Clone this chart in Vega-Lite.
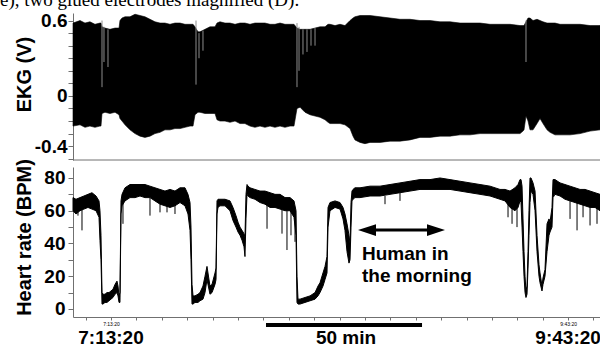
{
  "$schema": "https://vega.github.io/schema/vega-lite/v6.json",
  "width": 527,
  "height": 304,
  "autosize": {"type": "none"},
  "padding": {"left": 73, "top": 13, "right": 0, "bottom": 28},
  "background": "white",
  "config": {
    "view": {"stroke": null},
    "font": "Liberation Sans",
    "axis": {"grid": false, "domainColor": "#707070", "tickColor": "#707070", "labelColor": "#000", "titleColor": "#000", "labelFont": "Liberation Sans", "titleFont": "Liberation Sans", "titleFontWeight": "bold", "labelOverlap": false}
  },
  "datasets": {
    "ekg": [
      {"t":25252,"hi":0.58,"lo":-0.24},{"t":25390,"hi":0.60,"lo":-0.23},{"t":25488,"hi":0.58,"lo":-0.25},{"t":25586,"hi":0.59,"lo":-0.24},{"t":25685,"hi":0.57,"lo":-0.25},{"t":25783,"hi":0.58,"lo":-0.24},{"t":25803,"hi":0.58,"lo":-0.24},{"t":25823,"hi":0.55,"lo":-0.14},{"t":25882,"hi":0.54,"lo":-0.13},{"t":25980,"hi":0.53,"lo":-0.14},{"t":26079,"hi":0.54,"lo":-0.13},{"t":26158,"hi":0.54,"lo":-0.15},{"t":26177,"hi":0.60,"lo":-0.18},{"t":26217,"hi":0.62,"lo":-0.20},{"t":26276,"hi":0.63,"lo":-0.23},{"t":26374,"hi":0.63,"lo":-0.27},{"t":26473,"hi":0.65,"lo":-0.30},{"t":26571,"hi":0.64,"lo":-0.32},{"t":26669,"hi":0.63,"lo":-0.33},{"t":26768,"hi":0.61,"lo":-0.32},{"t":26866,"hi":0.59,"lo":-0.30},{"t":26965,"hi":0.58,"lo":-0.29},{"t":27063,"hi":0.58,"lo":-0.27},{"t":27162,"hi":0.57,"lo":-0.27},{"t":27260,"hi":0.58,"lo":-0.26},{"t":27359,"hi":0.58,"lo":-0.26},{"t":27457,"hi":0.57,"lo":-0.25},{"t":27556,"hi":0.57,"lo":-0.24},{"t":27615,"hi":0.57,"lo":-0.24},{"t":27654,"hi":0.55,"lo":-0.15},{"t":27713,"hi":0.51,"lo":-0.13},{"t":27752,"hi":0.51,"lo":-0.13},{"t":27851,"hi":0.53,"lo":-0.14},{"t":27949,"hi":0.55,"lo":-0.14},{"t":28048,"hi":0.55,"lo":-0.14},{"t":28087,"hi":0.58,"lo":-0.19},{"t":28146,"hi":0.59,"lo":-0.20},{"t":28245,"hi":0.58,"lo":-0.20},{"t":28343,"hi":0.58,"lo":-0.21},{"t":28442,"hi":0.57,"lo":-0.20},{"t":28540,"hi":0.58,"lo":-0.22},{"t":28638,"hi":0.58,"lo":-0.22},{"t":28737,"hi":0.57,"lo":-0.24},{"t":28835,"hi":0.58,"lo":-0.25},{"t":28934,"hi":0.58,"lo":-0.24},{"t":29032,"hi":0.58,"lo":-0.25},{"t":29131,"hi":0.57,"lo":-0.24},{"t":29229,"hi":0.57,"lo":-0.25},{"t":29328,"hi":0.58,"lo":-0.24},{"t":29426,"hi":0.57,"lo":-0.25},{"t":29525,"hi":0.57,"lo":-0.24},{"t":29603,"hi":0.57,"lo":-0.24},{"t":29662,"hi":0.54,"lo":-0.10},{"t":29722,"hi":0.53,"lo":-0.09},{"t":29820,"hi":0.53,"lo":-0.13},{"t":29919,"hi":0.53,"lo":-0.15},{"t":30017,"hi":0.54,"lo":-0.16},{"t":30115,"hi":0.55,"lo":-0.17},{"t":30214,"hi":0.55,"lo":-0.19},{"t":30273,"hi":0.57,"lo":-0.21},{"t":30312,"hi":0.57,"lo":-0.22},{"t":30411,"hi":0.56,"lo":-0.22},{"t":30509,"hi":0.57,"lo":-0.22},{"t":30607,"hi":0.56,"lo":-0.23},{"t":30706,"hi":0.60,"lo":-0.26},{"t":30765,"hi":0.62,"lo":-0.32},{"t":30804,"hi":0.63,"lo":-0.35},{"t":30903,"hi":0.64,"lo":-0.37},{"t":31001,"hi":0.64,"lo":-0.38},{"t":31100,"hi":0.64,"lo":-0.37},{"t":31297,"hi":0.63,"lo":-0.37},{"t":31494,"hi":0.62,"lo":-0.36},{"t":31690,"hi":0.61,"lo":-0.36},{"t":31887,"hi":0.61,"lo":-0.35},{"t":32084,"hi":0.60,"lo":-0.33},{"t":32281,"hi":0.60,"lo":-0.33},{"t":32478,"hi":0.59,"lo":-0.32},{"t":32675,"hi":0.59,"lo":-0.32},{"t":32872,"hi":0.58,"lo":-0.31},{"t":33069,"hi":0.58,"lo":-0.31},{"t":33266,"hi":0.58,"lo":-0.30},{"t":33463,"hi":0.57,"lo":-0.30},{"t":33659,"hi":0.57,"lo":-0.30},{"t":33856,"hi":0.57,"lo":-0.30},{"t":34053,"hi":0.56,"lo":-0.30},{"t":34112,"hi":0.56,"lo":-0.28},{"t":34132,"hi":0.56,"lo":-0.27},{"t":34171,"hi":0.59,"lo":-0.16},{"t":34211,"hi":0.62,"lo":-0.20},{"t":34250,"hi":0.62,"lo":-0.27},{"t":34309,"hi":0.60,"lo":-0.27},{"t":34388,"hi":0.61,"lo":-0.22},{"t":34447,"hi":0.60,"lo":-0.18},{"t":34506,"hi":0.59,"lo":-0.22},{"t":34585,"hi":0.58,"lo":-0.27},{"t":34644,"hi":0.58,"lo":-0.29},{"t":34742,"hi":0.58,"lo":-0.31},{"t":34841,"hi":0.57,"lo":-0.31},{"t":35038,"hi":0.57,"lo":-0.31},{"t":35235,"hi":0.57,"lo":-0.30},{"t":35432,"hi":0.56,"lo":-0.28},{"t":35628,"hi":0.56,"lo":-0.27}
    ],
    "ekgGlitch": [
      {"t":25823,"top":0.60,"bottom":0.07},{"t":25862,"top":0.55,"bottom":0.27},{"t":25941,"top":0.53,"bottom":0.23},{"t":27674,"top":0.60,"bottom":0.09},{"t":27733,"top":0.50,"bottom":0.30},{"t":27811,"top":0.52,"bottom":0.36},{"t":29662,"top":0.58,"bottom":0.07},{"t":29702,"top":0.55,"bottom":0.20},{"t":29780,"top":0.53,"bottom":0.33},{"t":29859,"top":0.53,"bottom":0.35},{"t":29938,"top":0.53,"bottom":0.40},{"t":30017,"top":0.54,"bottom":0.40},{"t":34171,"top":0.60,"bottom":0.27}
    ],
    "hr": [
      {"t":25252,"lo":60,"hi":68},{"t":25311,"lo":58,"hi":67},{"t":25390,"lo":60,"hi":68},{"t":25468,"lo":61,"hi":69},{"t":25547,"lo":62,"hi":70},{"t":25626,"lo":61,"hi":71},{"t":25705,"lo":60,"hi":69},{"t":25764,"lo":56,"hi":66},{"t":25783,"lo":42,"hi":60},{"t":25803,"lo":30,"hi":45},{"t":25823,"lo":3,"hi":10},{"t":25842,"lo":3,"hi":9},{"t":25882,"lo":4,"hi":9},{"t":25921,"lo":4,"hi":10},{"t":25961,"lo":5,"hi":10},{"t":26000,"lo":6,"hi":11},{"t":26039,"lo":7,"hi":12},{"t":26079,"lo":9,"hi":15},{"t":26118,"lo":10,"hi":17},{"t":26138,"lo":8,"hi":14},{"t":26158,"lo":4,"hi":8},{"t":26177,"lo":4,"hi":10},{"t":26197,"lo":58,"hi":66},{"t":26217,"lo":63,"hi":70},{"t":26276,"lo":66,"hi":74},{"t":26374,"lo":68,"hi":76},{"t":26473,"lo":68,"hi":76},{"t":26571,"lo":69,"hi":76},{"t":26669,"lo":68,"hi":76},{"t":26768,"lo":68,"hi":75},{"t":26866,"lo":66,"hi":74},{"t":26965,"lo":64,"hi":73},{"t":27063,"lo":63,"hi":72},{"t":27162,"lo":62,"hi":73},{"t":27260,"lo":63,"hi":72},{"t":27359,"lo":65,"hi":74},{"t":27457,"lo":63,"hi":74},{"t":27516,"lo":58,"hi":70},{"t":27556,"lo":48,"hi":65},{"t":27575,"lo":30,"hi":50},{"t":27595,"lo":3,"hi":15},{"t":27615,"lo":3,"hi":8},{"t":27654,"lo":4,"hi":8},{"t":27713,"lo":4,"hi":9},{"t":27752,"lo":5,"hi":10},{"t":27811,"lo":6,"hi":14},{"t":27851,"lo":10,"hi":20},{"t":27890,"lo":18,"hi":26},{"t":27949,"lo":9,"hi":14},{"t":27989,"lo":10,"hi":15},{"t":28048,"lo":15,"hi":22},{"t":28068,"lo":18,"hi":25},{"t":28087,"lo":58,"hi":66},{"t":28107,"lo":62,"hi":67},{"t":28146,"lo":63,"hi":67},{"t":28245,"lo":63,"hi":67},{"t":28343,"lo":60,"hi":66},{"t":28402,"lo":54,"hi":62},{"t":28461,"lo":50,"hi":57},{"t":28501,"lo":47,"hi":53},{"t":28540,"lo":45,"hi":50},{"t":28580,"lo":42,"hi":48},{"t":28619,"lo":38,"hi":46},{"t":28638,"lo":32,"hi":44},{"t":28658,"lo":55,"hi":70},{"t":28678,"lo":70,"hi":76},{"t":28698,"lo":69,"hi":75},{"t":28737,"lo":68,"hi":74},{"t":28835,"lo":67,"hi":73},{"t":28934,"lo":65,"hi":72},{"t":29032,"lo":64,"hi":72},{"t":29131,"lo":62,"hi":71},{"t":29229,"lo":62,"hi":70},{"t":29328,"lo":61,"hi":70},{"t":29426,"lo":60,"hi":68},{"t":29525,"lo":60,"hi":68},{"t":29603,"lo":56,"hi":66},{"t":29643,"lo":45,"hi":60},{"t":29662,"lo":4,"hi":20},{"t":29682,"lo":3,"hi":6},{"t":29722,"lo":3,"hi":6},{"t":29820,"lo":4,"hi":7},{"t":29919,"lo":5,"hi":8},{"t":30017,"lo":6,"hi":10},{"t":30076,"lo":8,"hi":14},{"t":30115,"lo":10,"hi":16},{"t":30174,"lo":14,"hi":22},{"t":30214,"lo":18,"hi":26},{"t":30253,"lo":22,"hi":32},{"t":30273,"lo":50,"hi":62},{"t":30312,"lo":60,"hi":65},{"t":30411,"lo":62,"hi":66},{"t":30509,"lo":61,"hi":65},{"t":30568,"lo":55,"hi":62},{"t":30607,"lo":48,"hi":58},{"t":30647,"lo":35,"hi":52},{"t":30686,"lo":28,"hi":45},{"t":30706,"lo":30,"hi":40},{"t":30726,"lo":50,"hi":65},{"t":30745,"lo":66,"hi":72},{"t":30765,"lo":67,"hi":73},{"t":30804,"lo":68,"hi":74},{"t":30903,"lo":68,"hi":74},{"t":31100,"lo":69,"hi":75},{"t":31297,"lo":69,"hi":75},{"t":31494,"lo":70,"hi":76},{"t":31690,"lo":71,"hi":77},{"t":31887,"lo":72,"hi":78},{"t":32084,"lo":73,"hi":79},{"t":32281,"lo":73,"hi":79},{"t":32478,"lo":73,"hi":80},{"t":32675,"lo":73,"hi":79},{"t":32872,"lo":72,"hi":78},{"t":33069,"lo":71,"hi":77},{"t":33266,"lo":70,"hi":76},{"t":33463,"lo":69,"hi":75},{"t":33659,"lo":67,"hi":73},{"t":33758,"lo":66,"hi":73},{"t":33856,"lo":62,"hi":72},{"t":33955,"lo":60,"hi":74},{"t":34014,"lo":62,"hi":76},{"t":34053,"lo":66,"hi":79},{"t":34073,"lo":65,"hi":79},{"t":34093,"lo":50,"hi":75},{"t":34112,"lo":35,"hi":55},{"t":34132,"lo":20,"hi":35},{"t":34152,"lo":10,"hi":20},{"t":34171,"lo":7,"hi":11},{"t":34191,"lo":9,"hi":14},{"t":34211,"lo":25,"hi":35},{"t":34230,"lo":45,"hi":60},{"t":34250,"lo":65,"hi":80},{"t":34270,"lo":72,"hi":80},{"t":34309,"lo":70,"hi":77},{"t":34349,"lo":60,"hi":72},{"t":34388,"lo":35,"hi":45},{"t":34427,"lo":20,"hi":27},{"t":34447,"lo":16,"hi":22},{"t":34486,"lo":11,"hi":14},{"t":34506,"lo":15,"hi":19},{"t":34545,"lo":20,"hi":24},{"t":34585,"lo":35,"hi":52},{"t":34624,"lo":45,"hi":55},{"t":34644,"lo":47,"hi":53},{"t":34683,"lo":50,"hi":62},{"t":34703,"lo":68,"hi":79},{"t":34742,"lo":70,"hi":79},{"t":34841,"lo":69,"hi":77},{"t":34939,"lo":67,"hi":76},{"t":35038,"lo":66,"hi":75},{"t":35136,"lo":65,"hi":74},{"t":35235,"lo":64,"hi":73},{"t":35333,"lo":63,"hi":73},{"t":35432,"lo":62,"hi":72},{"t":35530,"lo":62,"hi":71},{"t":35628,"lo":60,"hi":70}
    ],
    "hrSpike": [
      {"t":25350,"top":60,"bottom":57},{"t":25429,"top":62,"bottom":48},{"t":26236,"top":65,"bottom":52},{"t":26768,"top":68,"bottom":57},{"t":26965,"top":64,"bottom":59},{"t":27103,"top":63,"bottom":59},{"t":27260,"top":63,"bottom":58},{"t":29072,"top":64,"bottom":49},{"t":29367,"top":61,"bottom":46},{"t":29465,"top":60,"bottom":36},{"t":29544,"top":60,"bottom":45},{"t":29623,"top":58,"bottom":41},{"t":31395,"top":69,"bottom":64},{"t":31690,"top":71,"bottom":66},{"t":33817,"top":64,"bottom":56},{"t":33896,"top":62,"bottom":52},{"t":33994,"top":62,"bottom":50},{"t":35038,"top":66,"bottom":55},{"t":35176,"top":65,"bottom":48},{"t":35294,"top":64,"bottom":56},{"t":35432,"top":62,"bottom":51},{"t":35569,"top":62,"bottom":52}
    ],
    "timeLabels": [
      {"t":26000,"text":"7:13:20"},{"t":30627,"text":"50 min"},{"t":35000,"text":"9:43:20"}
    ],
    "note": [
      {"t":30942,"v":29.9,"text":"Human in"},{"t":30942,"v":16.5,"text":"the morning"}
    ],
    "caption": [
      {"t":23815,"text":"e), two glued electrodes magnified (D)."}
    ]
  },
  "layer": [
    {
      "layer": [
        {
          "data": {"name": "ekg"},
          "mark": {"type": "area", "color": "#000", "stroke": "#000", "strokeWidth": 0.6},
          "encoding": {
            "x": {"field": "t", "type": "quantitative", "scale": {"domain": [25252, 35628], "nice": false, "zero": false}, "axis": null},
            "y": {"field": "hi", "type": "quantitative", "scale": {"domain": [-0.51, 0.66], "range": [147, 0], "nice": false, "zero": false}, "axis": null},
            "y2": {"field": "lo"}
          }
        },
        {
          "data": {"name": "ekgGlitch"},
          "mark": {"type": "rule", "color": "#8c8c8c", "strokeWidth": 1},
          "encoding": {
            "x": {"field": "t", "type": "quantitative", "scale": {"domain": [25252, 35628], "nice": false, "zero": false}, "axis": null},
            "y": {"field": "top", "type": "quantitative", "scale": {"domain": [-0.51, 0.66], "range": [147, 0], "nice": false, "zero": false}, "axis": null},
            "y2": {"field": "bottom"}
          }
        },
        {
          "data": {"values": [{}]},
          "mark": {"type": "rule", "color": "#707070", "strokeWidth": 1},
          "encoding": {
            "y": {"datum": -0.51, "type": "quantitative", "scale": {"domain": [-0.51, 0.66], "range": [147, 0], "nice": false, "zero": false}, "axis": null}
          }
        },
        {
          "data": {"name": "caption"},
          "mark": {"type": "text", "font": "Liberation Serif", "fontSize": 19, "align": "left", "baseline": "alphabetic", "color": "#000"},
          "encoding": {
            "x": {"field": "t", "type": "quantitative", "scale": {"domain": [25252, 35628], "nice": false, "zero": false}, "axis": null},
            "y": {"datum": 0.716, "type": "quantitative", "scale": {"domain": [-0.51, 0.66], "range": [147, 0], "nice": false, "zero": false}, "axis": null},
            "text": {"field": "text"}
          }
        }
      ]
    },
    {
      "layer": [
        {
          "data": {"name": "hr"},
          "mark": {"type": "area", "color": "#000", "stroke": "#000", "strokeWidth": 1},
          "encoding": {
            "x": {"field": "t", "type": "quantitative", "scale": {"domain": [25252, 35628], "nice": false, "zero": false}, "axis": null},
            "y": {"field": "hi", "type": "quantitative", "scale": {"domain": [-4.9, 86.7], "range": [304, 154], "nice": false, "zero": false}, "axis": null},
            "y2": {"field": "lo"}
          }
        },
        {
          "data": {"name": "hrSpike"},
          "mark": {"type": "rule", "color": "#000", "strokeWidth": 1},
          "encoding": {
            "x": {"field": "t", "type": "quantitative", "scale": {"domain": [25252, 35628], "nice": false, "zero": false}, "axis": null},
            "y": {"field": "top", "type": "quantitative", "scale": {"domain": [-4.9, 86.7], "range": [304, 154], "nice": false, "zero": false}, "axis": null},
            "y2": {"field": "bottom"}
          }
        },
        {
          "data": {"values": [{}]},
          "mark": {"type": "rule", "color": "#000", "strokeWidth": 3},
          "encoding": {
            "x": {"datum": 31041, "type": "quantitative", "scale": {"domain": [25252, 35628], "nice": false, "zero": false}, "axis": null},
            "x2": {"datum": 32399},
            "y": {"datum": 48.2, "type": "quantitative", "scale": {"domain": [-4.9, 86.7], "range": [304, 154], "nice": false, "zero": false}, "axis": null}
          }
        },
        {
          "data": {"values": [{}]},
          "mark": {"type": "point", "shape": "M-1,0L1,-0.65L1,0.65Z", "filled": true, "size": 324, "color": "#000", "opacity": 1},
          "encoding": {
            "x": {"datum": 31041, "type": "quantitative", "scale": {"domain": [25252, 35628], "nice": false, "zero": false}, "axis": null},
            "y": {"datum": 48.2, "type": "quantitative", "scale": {"domain": [-4.9, 86.7], "range": [304, 154], "nice": false, "zero": false}, "axis": null}
          }
        },
        {
          "data": {"values": [{}]},
          "mark": {"type": "point", "shape": "M1,0L-1,-0.65L-1,0.65Z", "filled": true, "size": 324, "color": "#000", "opacity": 1},
          "encoding": {
            "x": {"datum": 32399, "type": "quantitative", "scale": {"domain": [25252, 35628], "nice": false, "zero": false}, "axis": null},
            "y": {"datum": 48.2, "type": "quantitative", "scale": {"domain": [-4.9, 86.7], "range": [304, 154], "nice": false, "zero": false}, "axis": null}
          }
        },
        {
          "data": {"name": "note"},
          "mark": {"type": "text", "fontSize": 19, "fontWeight": "bold", "align": "left", "baseline": "alphabetic", "color": "#000"},
          "encoding": {
            "x": {"field": "t", "type": "quantitative", "scale": {"domain": [25252, 35628], "nice": false, "zero": false}, "axis": null},
            "y": {"field": "v", "type": "quantitative", "scale": {"domain": [-4.9, 86.7], "range": [304, 154], "nice": false, "zero": false}, "axis": null},
            "text": {"field": "text"}
          }
        },
        {
          "data": {"values": [{}]},
          "mark": {"type": "rule", "color": "#000", "strokeWidth": 4},
          "encoding": {
            "x": {"datum": 29052, "type": "quantitative", "scale": {"domain": [25252, 35628], "nice": false, "zero": false}, "axis": null},
            "x2": {"datum": 32124},
            "y": {"datum": -9.8, "type": "quantitative", "scale": {"domain": [-4.9, 86.7], "range": [304, 154], "nice": false, "zero": false}, "axis": null}
          }
        },
        {
          "data": {"name": "timeLabels"},
          "mark": {"type": "text", "fontSize": 19, "fontWeight": "bold", "align": "center", "baseline": "alphabetic", "color": "#000"},
          "encoding": {
            "x": {"field": "t", "type": "quantitative", "scale": {"domain": [25252, 35628], "nice": false, "zero": false}, "axis": null},
            "y": {"datum": -21.4, "type": "quantitative", "scale": {"domain": [-4.9, 86.7], "range": [304, 154], "nice": false, "zero": false}, "axis": null},
            "text": {"field": "text"}
          }
        }
      ]
    },
    {
      "data": {"values": [{}]},
      "mark": {"type": "rule", "opacity": 0},
      "encoding": {
        "y": {"datum": 0, "type": "quantitative", "scale": {"domain": [-0.51, 0.66], "range": [147, 0], "nice": false, "zero": false},
          "axis": {"orient": "left", "values": [-0.5,-0.4,-0.3,-0.2,-0.1,0,0.1,0.2,0.3,0.4,0.5,0.6],
            "labelExpr": "datum.value == 0.6 || datum.value == 0 || datum.value == -0.4 ? replace(format(datum.value, '.1~f'), '−', '-') : ''",
            "labelFontSize": 19, "labelFontWeight": "bold", "tickSize": 5, "labelPadding": 1, "labelOverlap": false,
            "title": "EKG (V)", "titleFontSize": 20, "titleX": -48.5, "titleY": 61, "titleBaseline": "middle"}}
      }
    },
    {
      "data": {"values": [{}]},
      "mark": {"type": "rule", "opacity": 0},
      "encoding": {
        "y": {"datum": 40, "type": "quantitative", "scale": {"domain": [-4.9, 86.7], "range": [304, 154], "nice": false, "zero": false},
          "axis": {"orient": "left", "values": [0,10,20,30,40,50,60,70,80],
            "labelExpr": "datum.value % 20 == 0 ? toString(datum.value) : ''",
            "labelFontSize": 19, "labelFontWeight": "bold", "tickSize": 5, "labelPadding": 3, "labelOverlap": false,
            "title": "Heart rate (BPM)", "titleFontSize": 20, "titleX": -48.5, "titleY": 224, "titleBaseline": "middle"}}
      }
    },
    {
      "data": {"values": [{}]},
      "mark": {"type": "rule", "opacity": 0},
      "encoding": {
        "x": {"datum": 30000, "type": "quantitative", "scale": {"domain": [25252, 35628], "nice": false, "zero": false},
          "axis": {"title": null, "values": [25500,26000,26500,27000,27500,28000,28500,29000,29500,30000,30500,31000,31500,32000,32500,33000,33500,34000,34500,35000,35500],
            "labelExpr": "datum.value == 26000 || datum.value == 35000 ? utcFormat(datum.value * 1000, '%-H:%M:%S') : ''",
            "labelFontSize": 5, "tickSize": 3, "labelPadding": 1, "labelFlush": false, "labelOverlap": false}}
      }
    }
  ],
  "resolve": {"scale": {"y": "independent"}, "axis": {"y": "independent", "x": "independent"}}
}
